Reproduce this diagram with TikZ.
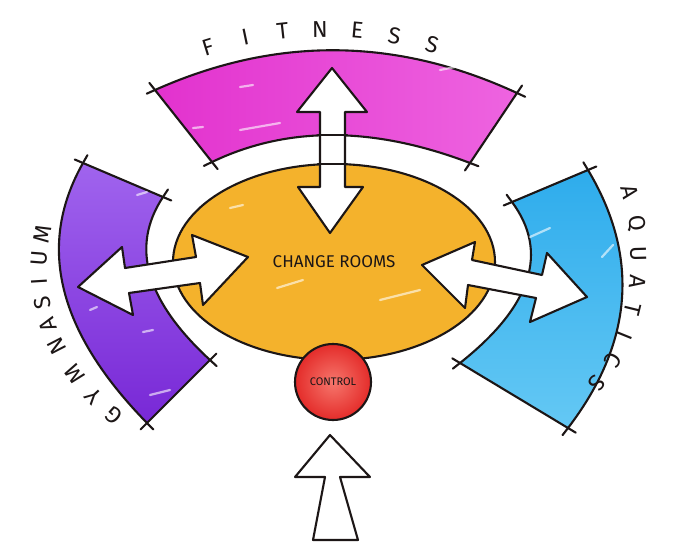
\documentclass[tikz,border=0pt]{standalone}
\usepackage{fontspec}
\setmainfont{Fira Sans}
\usetikzlibrary{calc,shapes.geometric}

\definecolor{inkblack}{RGB}{28,22,22}
\definecolor{fitpink}{RGB}{226,50,206}
\definecolor{fitpinklt}{RGB}{238,100,224}
\definecolor{gympurple}{RGB}{120,40,214}
\definecolor{gympurplelt}{RGB}{160,100,238}
\definecolor{aquablue}{RGB}{46,172,236}
\definecolor{aquabluelt}{RGB}{100,200,244}
\definecolor{roomorange}{RGB}{244,178,44}
\definecolor{ctrlred}{RGB}{228,44,42}
\definecolor{ctrlredlt}{RGB}{246,118,108}

\begin{document}
\begin{tikzpicture}[x=1pt, y=-1pt,
    ink/.style={draw=inkblack, line width=2.1pt, line cap=round, line join=round},
    walkway/.style={ink, fill=white},
    gloss/.style={draw=white, opacity=0.6, line width=2.2pt, line cap=round},
    letter/.style={font=\fontsize{23}{23}\selectfont, text=inkblack, inner sep=0pt, sloped, allow upside down}]
  \useasboundingbox[fill=white] (0,0) rectangle (685,551);

  % band corners and curve handles
  \coordinate (fo1) at (155,90);  \coordinate (fc1) at (276,36);
  \coordinate (fc2) at (396,37);  \coordinate (fo2) at (517,93);
  \coordinate (fi1) at (212,162); \coordinate (fd1) at (287,126);
  \coordinate (fd2) at (373,126); \coordinate (fi2) at (470,163);
  \coordinate (go1) at (83,163);  \coordinate (gc1) at (36,246);
  \coordinate (gc2) at (58,332);  \coordinate (go2) at (147,423);
  \coordinate (gi1) at (163,197); \coordinate (gd1) at (130,247);
  \coordinate (gd2) at (146,301); \coordinate (gi2) at (210,360);
  \coordinate (ao1) at (588,170); \coordinate (ac1) at (640,257);
  \coordinate (ac2) at (633,343); \coordinate (ao2) at (568,428);
  \coordinate (ai1) at (512,202); \coordinate (ad1) at (549,252);
  \coordinate (ad2) at (532,306); \coordinate (ai2) at (460,363);

  % zones
  \path[ink, left color=fitpink, right color=fitpinklt]
    (fo1) .. controls (fc1) and (fc2) .. (fo2) -- (fi2) .. controls (fd2) and (fd1) .. (fi1) -- cycle;
  \path[ink, top color=gympurplelt, bottom color=gympurple]
    (go1) .. controls (gc1) and (gc2) .. (go2) -- (gi2) .. controls (gd2) and (gd1) .. (gi1) -- cycle;
  \path[ink, top color=aquablue, bottom color=aquabluelt]
    (ao1) .. controls (ac1) and (ac2) .. (ao2) -- (ai2) .. controls (ad2) and (ad1) .. (ai1) -- cycle;
  \foreach \a/\b in {fo1/fi1, fi1/fo1, fo2/fi2, fi2/fo2, fo1/fc1, fo2/fc2, fi1/fd1, fi2/fd2,
                     go1/gi1, gi1/go1, go2/gi2, gi2/go2, go1/gc1, go2/gc2, gi1/gd1, gi2/gd2,
                     ao1/ai1, ai1/ao1, ao2/ai2, ai2/ao2, ao1/ac1, ao2/ac2, ai1/ad1, ai2/ad2}
    \draw[ink] (\a) -- ($(\a)!-9pt!(\b)$);

  \node[ellipse, ink, fill=roomorange, minimum width=322pt, minimum height=196pt, inner sep=0pt,
        font=\fontsize{17}{17}\selectfont, text=inkblack] (rooms) at (334,262) {CHANGE ROOMS};

  % highlights
  \draw[gloss] (240,87) -- (253,85);
  \draw[gloss] (240,130) -- (280,123);
  \draw[gloss] (193,128) -- (203,127);
  \draw[gloss] (440,70) -- (470,64);
  \draw[gloss] (137,195) -- (147,192);
  \draw[gloss] (90,310) -- (97,307);
  \draw[gloss] (143,332) -- (153,330);
  \draw[gloss] (150,395) -- (170,390);
  \draw[gloss] (530,237) -- (550,228);
  \draw[gloss] (602,257) -- (613,245);
  \draw[gloss] (230,208) -- (243,205);
  \draw[gloss] (277,288) -- (303,280);
  \draw[gloss] (380,300) -- (420,290);

  % fitness <-> change rooms
  \path[walkway] (332,68) -- (367,112) -- (345,112) -- (345,187) -- (363,187) -- (330,233)
    -- (298,187) -- (320,187) -- (320,112) -- (297,112) -- cycle;
  \draw[ink] (318,135) -- (347,135);
  \draw[ink] (318,164) -- (347,164);

  % gymnasium <-> change rooms
  \path[walkway] (78,287) -- (122,247) -- (125,268) -- (196,257) -- (192,235) -- (248,257)
    -- (203,305) -- (200,283) -- (129,293) -- (133,315) -- cycle;

  % aquatics <-> change rooms
  \path[walkway] (422,265) -- (475,242) -- (472,260) -- (542,275) -- (547,253) -- (587,297)
    -- (530,322) -- (536,298) -- (468,285) -- (465,308) -- cycle;

  \node[circle, ink, inner color=ctrlredlt, outer color=ctrlred, minimum size=76pt, inner sep=0pt,
        font=\fontsize{11}{11}\selectfont, text=inkblack] (control) at (333,382) {CONTROL};

  % entry
  \path[walkway] (330,435) -- (370,477) -- (340,477) -- (358,540) -- (313,540) -- (325,477)
    -- (295,477) -- cycle;

  % zone names
  \path (208,47) .. controls (283,24) and (357,23) .. (432,45)
    foreach \ch [count=\i, evaluate=\i as \t using (\i-1)/6] in {F,I,T,N,E,S,S} {node[letter, pos=\t] (fit\i) {\ch}};
  \path (114,416) .. controls (52,361) and (29,302) .. (43,234)
    foreach \ch/\t [count=\i] in {G/0, Y/0.12, M/0.25, N/0.41, A/0.53, S/0.645, I/0.76, U/0.88, M/1} {node[letter, pos=\t] (gym\i) {\ch}};
  \path (630,192) .. controls (649,267) and (638,331) .. (597,383)
    foreach \ch [count=\i, evaluate=\i as \t using (\i-1)/7] in {A,Q,U,A,T,I,C,S} {node[letter, pos=\t] (aqua\i) {\ch}};
\end{tikzpicture}
\end{document}
